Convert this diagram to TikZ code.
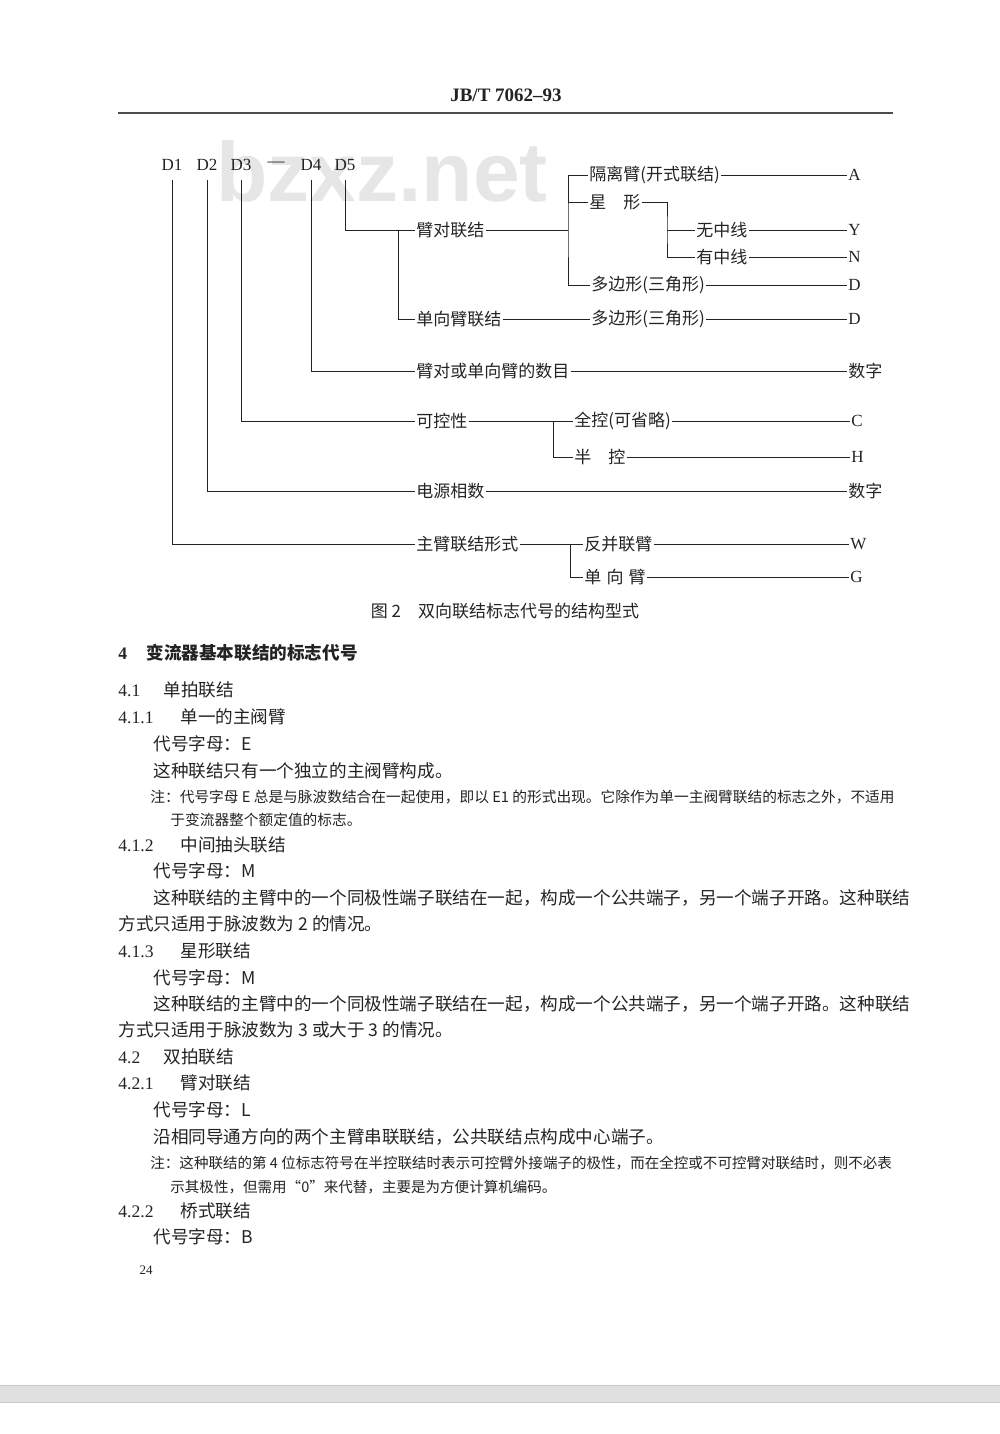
\documentclass[tikz,border=0pt]{standalone}
\usepackage{fontspec}
\setmainfont{Liberation Serif}
\newfontfamily\cjk{Noto Sans CJK SC}
\newfontfamily\wmfont{Liberation Sans}
\usetikzlibrary{positioning}
\definecolor{inkgray}{RGB}{35,35,35}
\definecolor{wmgray}{RGB}{230,230,230}
\definecolor{bandgray}{RGB}{224,224,224}
\newcommand\secnum[2]{\makebox[#1][l]{\rmfamily #2}}

\begin{document}
\begin{tikzpicture}[x=0.5pt, y=-0.5pt,
    ln/.style={line width=0.5pt, inkgray},
    lbl/.style={font=\cjk\fontsize{8.5}{10}\selectfont, text=inkgray,
                inner sep=0.5pt, anchor=west},
    codeltr/.style={font=\fontsize{8.5}{10}\selectfont, text=inkgray,
                inner sep=0.5pt, anchor=west},
    dlbl/.style={font=\fontsize{8.5}{10}\selectfont, text=inkgray, inner sep=1pt},
    body/.style={font=\cjk\fontsize{8.8}{10}\selectfont, text=inkgray,
                inner sep=0pt, anchor=west},
    notetext/.style={font=\cjk\fontsize{#1}{9}\selectfont, text=inkgray,
                inner sep=0pt, anchor=west},
    notetext/.default=7.2,
    down/.style={ln, shorten <=3.5pt}
  ]
  \useasboundingbox (0,0) rectangle (1000,1434);

  % watermark
  \node[font=\wmfont\bfseries\fontsize{42}{42}\selectfont, text=wmgray,
        anchor=base west, inner sep=0pt] (wm) at (216,201) {bzxz.net};

  % page head
  \node[font=\bfseries\fontsize{9.5}{11}\selectfont, text=inkgray] (hdr) at (506,95)
        {JB/T 7062–93};
  \draw[line width=1pt, black!70] (118,113) -- (893,113);

  % code positions
  \node[dlbl] (d1)   at (172,165) {D1};
  \node[dlbl] (d2)   at (207,165) {D2};
  \node[dlbl] (d3)   at (241,165) {D3};
  \node[dlbl] (dash) at (276,164) {—};
  \node[dlbl] (d4)   at (311,165) {D4};
  \node[dlbl] (d5)   at (345,165) {D5};

  % D5: connection of arms
  \node[lbl] (bidui)    at (415,230) {臂对联结};
  \node[lbl] (danxiang) at (415,319) {单向臂联结};
  \node[lbl] (geli)     at (588,175) {隔离臂(开式联结)};
  \node[lbl] (xing)     at (588,202) {星　形};
  \node[lbl] (wu)       at (695,230) {无中线};
  \node[lbl] (you)      at (695,257) {有中线};
  \node[lbl] (duo1)     at (590,285) {多边形(三角形)};
  \node[lbl] (duo2)     at (590,319) {多边形(三角形)};
  \coordinate (j1) at (398,230);
  \coordinate (j2) at (568,230);
  \coordinate (j3) at (667,230);
  \draw[down] (d5.south) |- (bidui.west);
  \draw[ln] (j1) |- (danxiang.west);
  \draw[ln] (bidui.east) -- (j2);
  \draw[ln] (geli.west) -| (j2) |- (duo1.west);
  \draw[ln] (xing.west) -- (xing.west -| j2);
  \draw[ln] (xing.east) -| (j3) |- (you.west);
  \draw[ln] (j3) -- (wu.west);
  \draw[ln] (danxiang.east) -- (duo2.west);

  % D4: number of arms
  \node[lbl] (shumu) at (415,371) {臂对或单向臂的数目};
  \draw[down] (d4.south) |- (shumu.west);

  % D3: controllability
  \node[lbl] (kekong)   at (415,421) {可控性};
  \node[lbl] (quankong) at (573,421) {全控(可省略)};
  \node[lbl] (bankong)  at (573,457) {半　控};
  \coordinate (j4) at (553,421);
  \draw[down] (d3.south) |- (kekong.west);
  \draw[ln] (kekong.east) -- (quankong.west);
  \draw[ln] (j4) |- (bankong.west);

  % D2: phases
  \node[lbl] (xiangshu) at (415,491) {电源相数};
  \draw[down] (d2.south) |- (xiangshu.west);

  % D1: main arm connection
  \node[lbl] (zhubi)   at (415,544) {主臂联结形式};
  \node[lbl] (fanbing) at (583,544) {反并联臂};
  \node[lbl] (danxb)   at (583,577) {单\hspace{0.3em}向\hspace{0.3em}臂};
  \coordinate (j5) at (570,544);
  \draw[down] (d1.south) |- (zhubi.west);
  \draw[ln] (zhubi.east) -- (fanbing.west);
  \draw[ln] (j5) |- (danxb.west);

  % code letters
  \node[codeltr] (cA)  at (847,175) {A};
  \node[codeltr] (cY)  at (847,230) {Y};
  \node[codeltr] (cN)  at (847,257) {N};
  \node[codeltr] (cD1) at (847,285) {D};
  \node[codeltr] (cD2) at (847,319) {D};
  \node[lbl]     (cNum1) at (847,371) {数字};
  \node[codeltr] (cC)  at (850,421) {C};
  \node[codeltr] (cH)  at (850,457) {H};
  \node[lbl]     (cNum2) at (847,491) {数字};
  \node[codeltr] (cW)  at (849,544) {W};
  \node[codeltr] (cG)  at (849,577) {G};
  \draw[ln] (geli.east) -- (cA.west);
  \draw[ln] (wu.east) -- (cY.west);
  \draw[ln] (you.east) -- (cN.west);
  \draw[ln] (duo1.east) -- (cD1.west);
  \draw[ln] (duo2.east) -- (cD2.west);
  \draw[ln] (shumu.east) -- (cNum1.west);
  \draw[ln] (quankong.east) -- (cC.west);
  \draw[ln] (bankong.east) -- (cH.west);
  \draw[ln] (xiangshu.east) -- (cNum2.west);
  \draw[ln] (fanbing.east) -- (cW.west);
  \draw[ln] (danxb.east) -- (cG.west);

  \node[lbl, anchor=center] (cap) at (505,611)
        {图 2\hspace{1em}双向联结标志代号的结构型式};

  % clause 4
  \node[body, font=\cjk\bfseries\fontsize{8.8}{10}\selectfont] (h4) at (118,653)
        {\secnum{14pt}{\bfseries 4}变流器基本联结的标志代号};
  \node[body] (h41)   at (118,690) {\secnum{22.5pt}{4.1}单拍联结};
  \node[body] (h411)  at (118,717) {\secnum{31pt}{4.1.1}单一的主阀臂};
  \node[body] (ecode) at (153,744) {代号字母：E};
  \node[body] (etext) at (153,771) {这种联结只有一个独立的主阀臂构成。};
  \node[notetext=7.35] (enote) at (150,797)
        {注：代号字母 E 总是与脉波数结合在一起使用，即以 E1 的形式出现。它除作为单一主阀臂联结的标志之外，不适用};
  \node[notetext=7.35] (enote2) at (170,820) {于变流器整个额定值的标志。};

  \node[body] (h412)  at (118,845) {\secnum{31pt}{4.1.2}中间抽头联结};
  \node[body] (mcode) at (153,871) {代号字母：M};
  \node[body] (mpar1) at (153,898)
        {这种联结的主臂中的一个同极性端子联结在一起，构成一个公共端子，另一个端子开路。这种联结};
  \node[body] (mpar2) at (118,924) {方式只适用于脉波数为 2 的情况。};

  \node[body] (h413)  at (118,951) {\secnum{31pt}{4.1.3}星形联结};
  \node[body] (scode) at (153,978) {代号字母：M};
  \node[body] (spar1) at (153,1004)
        {这种联结的主臂中的一个同极性端子联结在一起，构成一个公共端子，另一个端子开路。这种联结};
  \node[body] (spar2) at (118,1030) {方式只适用于脉波数为 3 或大于 3 的情况。};

  \node[body] (h42)   at (118,1057) {\secnum{22.5pt}{4.2}双拍联结};
  \node[body] (h421)  at (118,1083) {\secnum{31pt}{4.2.1}臂对联结};
  \node[body] (lcode) at (153,1110) {代号字母：L};
  \node[body] (ltext) at (153,1137) {沿相同导通方向的两个主臂串联联结，公共联结点构成中心端子。};
  \node[notetext=7.27] (lnote) at (150,1163)
        {注：这种联结的第 4 位标志符号在半控联结时表示可控臂外接端子的极性，而在全控或不可控臂对联结时，则不必表};
  \node[notetext=7.27] (lnote2) at (170,1187) {示其极性，但需用“0”来代替，主要是为方便计算机编码。};

  \node[body] (h422)  at (118,1211) {\secnum{31pt}{4.2.2}桥式联结};
  \node[body] (bcode) at (153,1237) {代号字母：B};

  \node[font=\fontsize{6.5}{8}\selectfont, text=inkgray] (pgno) at (146,1270) {24};

  % viewer strip
  \fill[bandgray] (0,1385) rectangle (1000,1402);
  \draw[black!22, line width=0.5pt] (0,1385) -- (1000,1385) (0,1402) -- (1000,1402);
\end{tikzpicture}
\end{document}
